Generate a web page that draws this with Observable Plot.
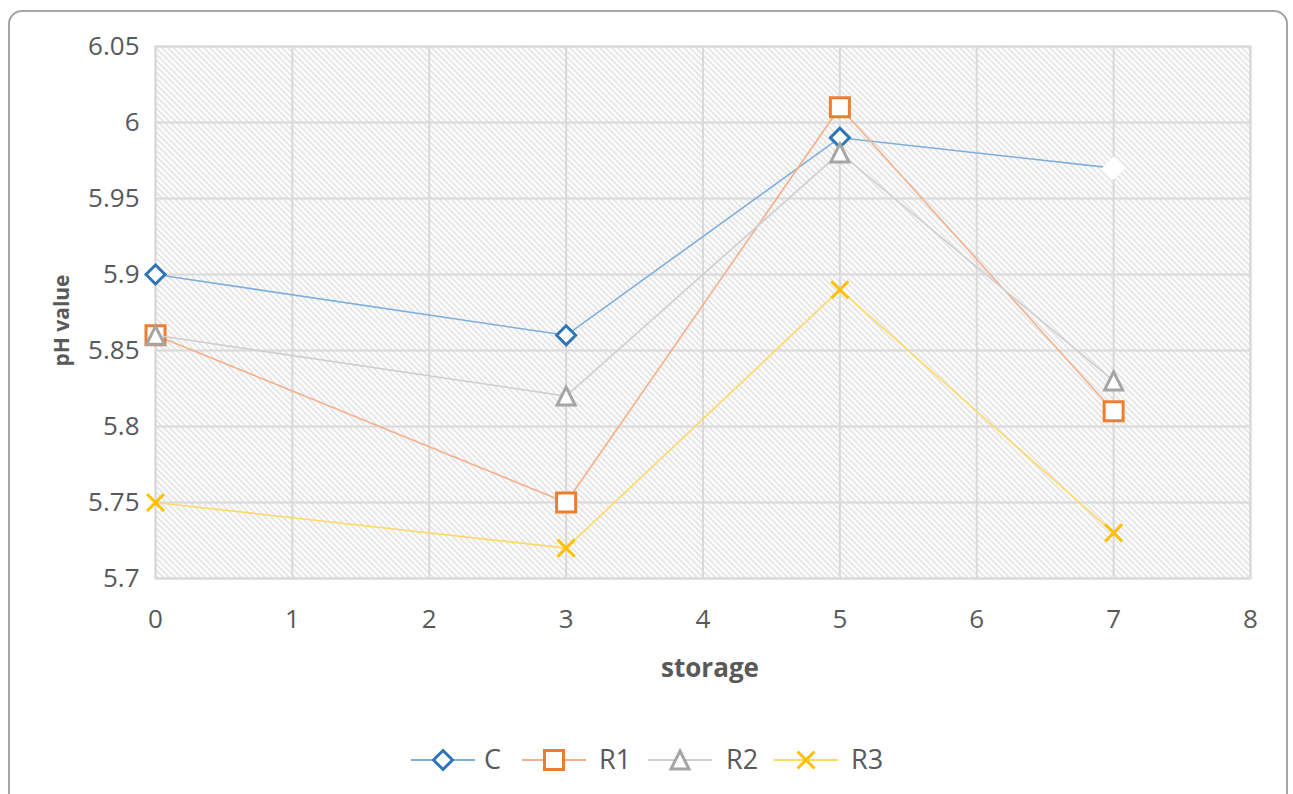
<!DOCTYPE html>
<html><head><meta charset="utf-8">
<script src="https://cdn.jsdelivr.net/npm/d3@7"></script>
<script src="https://cdn.jsdelivr.net/npm/@observablehq/plot@0.6"></script>
<style>
body{margin:0;background:#fff;overflow:hidden;font-family:"Open Sans",sans-serif;}
#wrap{position:relative;width:1293px;height:794px;overflow:hidden;}
#border{position:absolute;left:8px;top:10px;width:1280px;height:820px;border:2px solid #a6a6a6;border-radius:14px;box-sizing:border-box;}
#chart{position:absolute;left:0;top:0;}
#legend{position:absolute;left:0;top:740px;width:1293px;height:40px;}
</style>
</head><body>
<div id="wrap"><div id="border"></div><div id="chart"></div><div id="legend"></div></div>
<script>
const storage = [0, 3, 5, 7];
const C  = [5.90, 5.86, 5.99, 5.97];
const R1 = [5.86, 5.75, 6.01, 5.81];
const R2 = [5.86, 5.82, 5.98, 5.83];
const R3 = [5.75, 5.72, 5.89, 5.73];
const seriesNames = ["C", "R1", "R2", "R3"];
const xTicks = [0, 1, 2, 3, 4, 5, 6, 7, 8];
const yTicks = [5.7, 5.75, 5.8, 5.85, 5.9, 5.95, 6, 6.05];

const lineColors = {C: "#7fafdd", R1: "#f5b08a", R2: "#cfcfcf", R3: "#ffd966"};
const markColors = {C: "#2e75b6", R1: "#ed7d31", R2: "#a5a5a5", R3: "#ffc000"};

const rad = s => Math.sqrt(s / Math.PI);
const diamond = {draw(c, s){const r = rad(s); c.moveTo(0,-r); c.lineTo(r,0); c.lineTo(0,r); c.lineTo(-r,0); c.closePath();}};
const square = {draw(c, s){const r = rad(s); c.moveTo(-r,-r); c.lineTo(r,-r); c.lineTo(r,r); c.lineTo(-r,r); c.closePath();}};
const triangle = {draw(c, s){const r = rad(s); c.moveTo(0,-r); c.lineTo(r,r); c.lineTo(-r,r); c.closePath();}};
const cross = {draw(c, s){const r = rad(s); c.moveTo(-r,-r); c.lineTo(r,r); c.moveTo(r,-r); c.lineTo(-r,r);}};
const symbols = {C: diamond, R1: square, R2: triangle, R3: cross};
const radii = {C: 9.5, R1: 9.5, R2: 9, R3: 8.5};

const valuesBySeries = {C, R1, R2, R3};
const rows = seriesNames.flatMap(name => storage.map((x, i) => ({series: name, x, y: valuesBySeries[name][i]})));

const seriesMarks = seriesNames.flatMap(name => {
  const d = rows.filter(r => r.series === name);
  const visible = name === "C" ? d.filter(r => r.x !== 7) : d;
  const hidden = name === "C" ? d.filter(r => r.x === 7) : [];
  return [
    Plot.line(d, {x: "x", y: "y", stroke: lineColors[name], strokeWidth: 1.6}),
    Plot.dot(hidden, {x: "x", y: "y", symbol: symbols[name], r: radii[name], fill: "white", stroke: "white", strokeWidth: 3}),
    Plot.dot(visible, {x: "x", y: "y", symbol: symbols[name], r: radii[name], fill: "white", stroke: markColors[name], strokeWidth: 3})
  ];
});

const chart = Plot.plot({
  width: 1293, height: 794,
  marginLeft: 155, marginRight: 43, marginTop: 46, marginBottom: 216,
  x: {domain: [0, 8]},
  y: {domain: [5.7, 6.05]},
  style: {fontFamily: "Open Sans", background: "transparent", overflow: "visible"},
  marks: [
    Plot.frame({fill: "url(#hatch)"}),
    Plot.gridX(xTicks, {stroke: "#d9d9d9", strokeOpacity: 1, strokeWidth: 2}),
    Plot.gridY(yTicks, {stroke: "#d9d9d9", strokeOpacity: 1, strokeWidth: 2}),
    Plot.frame({stroke: "#d9d9d9", strokeWidth: 2}),
    Plot.axisX(xTicks, {tickSize: 0, tickPadding: 31, fontSize: 26, fill: "#595959", label: null, tickFormat: d => String(d)}),
    Plot.axisY(yTicks, {tickSize: 0, tickPadding: 16, fontSize: 26, fill: "#595959", label: null, tickFormat: d => String(d)}),
    Plot.text(["storage"], {frameAnchor: "bottom", textAnchor: "middle", lineAnchor: "middle", dx: 7, dy: 90, fontSize: 26, fontWeight: "bold", fill: "#595959", text: d => d}),
    Plot.text(["pH value"], {frameAnchor: "left", textAnchor: "middle", lineAnchor: "middle", dx: -93, dy: 8, rotate: -90, fontSize: 21, fontWeight: "bold", fill: "#595959", text: d => d}),
    ...seriesMarks
  ]
});
chart.insertAdjacentHTML("afterbegin",
  `<defs><pattern id="hatch" patternUnits="userSpaceOnUse" width="6" height="6">
     <rect width="6" height="6" fill="white"/>
     <path d="M-1,-1 L7,7 M-1,5 L1,7 M5,-1 L7,1" stroke="#dadada" stroke-width="1.4"/>
   </pattern></defs>`);
document.getElementById("chart").appendChild(chart);

// legend
const legendItems = [
  {name: "C", lx: 411, tx: 484},
  {name: "R1", lx: 522, tx: 599},
  {name: "R2", lx: 648, tx: 726},
  {name: "R3", lx: 774, tx: 851}
];
const markPath = {
  C: "M0,-9.5L9.5,0L0,9.5L-9.5,0Z",
  R1: "M-9.5,-9.5L9.5,-9.5L9.5,9.5L-9.5,9.5Z",
  R2: "M0,-9L9,9L-9,9Z",
  R3: "M-8.5,-8.5L8.5,8.5M8.5,-8.5L-8.5,8.5"
};
let lsvg = `<svg width="1293" height="40" xmlns="http://www.w3.org/2000/svg" style="font-family:'Open Sans'">`;
for (const it of legendItems) {
  const cx = it.lx + 32;
  lsvg += `<line x1="${it.lx}" x2="${it.lx + 64}" y1="20" y2="20" stroke="${lineColors[it.name]}" stroke-width="2"/>`;
  lsvg += `<path transform="translate(${cx},20)" d="${markPath[it.name]}" fill="white" stroke="${markColors[it.name]}" stroke-width="3"/>`;
  lsvg += `<text x="${it.tx}" y="20" dy="0.35em" font-size="27" fill="#595959">${it.name}</text>`;
}
lsvg += `</svg>`;
document.getElementById("legend").innerHTML = lsvg;
</script>
</body></html>
